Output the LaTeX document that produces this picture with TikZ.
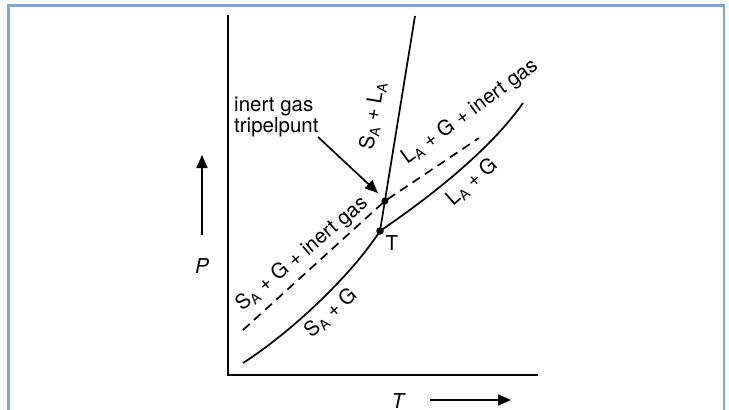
\documentclass[tikz,border=0pt]{standalone}
\usepackage{fontspec}
\setmainfont{TeX Gyre Heros}
\usetikzlibrary{arrows.meta}
\definecolor{frameblue}{RGB}{128,164,214}
\newcommand\lsub[1]{\raisebox{-0.35ex}{\fontsize{14}{14}\selectfont #1}}
\begin{document}
\begin{tikzpicture}[x=1pt,y=-1pt,
  font=\fontsize{20.5}{21}\selectfont,
  lbl/.style={inner sep=0pt},
  curve/.style={line width=1.7pt},
  axis/.style={line width=2.3pt, line join=miter},
  arr/.style={line width=1.7pt, -{Triangle[length=13pt,width=11pt]}},
  dot/.style={circle, fill=black, inner sep=0pt, minimum size=7.5pt}]
\useasboundingbox (0,0) rectangle (729,410);
% frame
\draw[frameblue, line width=2.5pt] (8.5,412) -- (8.5,5.5) -- (724,5.5) -- (724,412);
% axes
\coordinate (Ytop) at (228,15);
\coordinate (O) at (228,375);
\coordinate (Xend) at (538,375);
\draw[axis] (Ytop) -- (O) -- (Xend);
% key points
\coordinate (T) at (380,231);
\coordinate (TP) at (384.9,201);
\coordinate (Mtop) at (415,16);
\coordinate (Sstart) at (243,363);
\coordinate (Vend) at (523,103);
\coordinate (Dstart) at (243,330);
\coordinate (Dend) at (479,138);
% curves
\draw[curve] (Sstart) .. controls (290,333) and (350,277) .. (T);
\draw[curve] (T) .. controls (430,197) and (490,150) .. (Vend);
\draw[curve] (T) -- (Mtop);
\draw[curve, dash pattern=on 9pt off 6pt] (Dstart) -- (TP) -- (Dend);
\node[dot] (Tdot) at (T) {};
\node[dot, minimum size=7pt] (TPdot) at (TP) {};
% labels
\node[lbl, anchor=north west, align=left] (lab) at (234,97) {inert gas\\tripelpunt};
\coordinate (arrowstart) at (318,137);
\coordinate (arrowtip) at (378,193);
\draw[arr] (arrowstart) -- (arrowtip);
\node[lbl, rotate=80.5] (sl) at (373,116) {S\lsub{A} + L\lsub{A}};
\node[lbl, rotate=36] (lgi) at (470,112) {L\lsub{A} + G + inert gas};
\node[lbl, rotate=41] (lg) at (472,182) {L\lsub{A} + G};
\node[lbl, rotate=40] (sgi) at (302,254) {S\lsub{A} + G + inert gas};
\node[lbl, rotate=42] (sg) at (331,313) {S\lsub{A} + G};
\node[lbl] (Tlab) at (392,243) {T};
% axis labels and arrows
\node[lbl, font=\fontsize{20.5}{21}\selectfont\itshape] (Plab) at (202,266) {P};
\coordinate (Pa0) at (202,235);
\coordinate (Pa1) at (202,155);
\draw[arr] (Pa0) -- (Pa1);
\node[lbl, font=\fontsize{20.5}{21}\selectfont\itshape] (Tax) at (398,401) {T};
\coordinate (Ta0) at (430,400);
\coordinate (Ta1) at (511,400);
\draw[arr] (Ta0) -- (Ta1);
\end{tikzpicture}
\end{document}
